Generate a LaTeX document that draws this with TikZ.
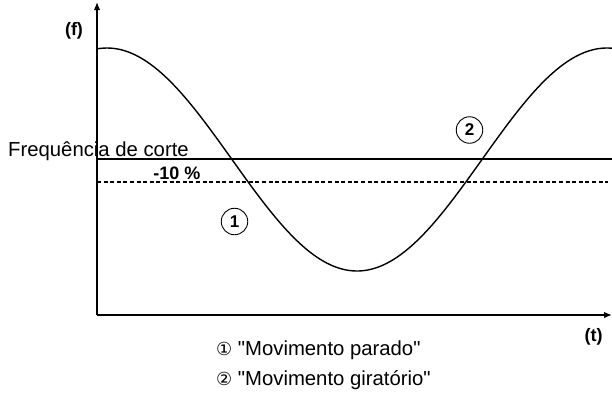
\documentclass[tikz,border=0pt]{standalone}
\usepackage{fontspec}
\setmainfont{Liberation Sans}
\newfontfamily\arialfont{Liberation Sans}
\newfontfamily\circfont{DejaVu Sans}
\usetikzlibrary{arrows.meta}
\tikzset{
  axis/.style={line width=1.4pt, -{Latex[length=8pt,width=6.5pt]}},
  curve/.style={line width=1.4pt},
  level/.style={line width=1.2pt},
  levdash/.style={line width=1.2pt, dash pattern=on 4pt off 2.6pt},
  lbl/.style={inner sep=0pt, font=\arialfont\fontsize{20.3}{24}\selectfont},
  boldlbl/.style={inner sep=0pt, font=\arialfont\fontsize{18}{21}\selectfont\bfseries},
  circ/.style={draw, circle, line width=0.9pt, minimum size=26.5pt, inner sep=0pt, font=\arialfont\fontsize{17}{19}\selectfont\bfseries},
}
\begin{document}
\begin{tikzpicture}[x=1pt,y=-1pt]
\useasboundingbox (0,0) rectangle (612,392);
% axes
\coordinate (O) at (97,315);
\coordinate (ytop) at (97,2);
\coordinate (xend) at (612,315);
\draw[axis] (O) -- (ytop);
\draw[axis] (O) -- (xend);
% levels
\coordinate (hs) at (97,159);
\coordinate (he) at (612,159);
\coordinate (ds) at (97,182);
\coordinate (de) at (608,182);
\draw[level] (hs) -- (he);
\draw[levdash] (ds) -- (de);
% curve
\draw[curve] plot[domain=97:612, samples=160, smooth] (\x, {159.5+111.5*cos(0.72*(\x-357))});
% labels
\node[lbl, anchor=base west] (fc) at (8,156) {Frequência de corte};
\node[boldlbl, anchor=base] (pct) at (177,179) {-10 \%};
\node[boldlbl] (f) at (74,30.5) {(f)};
\node[boldlbl] (t) at (593.5,337) {(t)};
\node[circ] (c1) at (234.5,221.5) {1};
\node[circ] (c2) at (469.5,130) {2};
\node[lbl, anchor=base west] (l1) at (216,355) {{\circfont\fontsize{18}{20}\selectfont ①} "Movimento parado"};
\node[lbl, anchor=base west] (l2) at (216,385) {{\circfont\fontsize{18}{20}\selectfont ②} "Movimento giratório"};
\end{tikzpicture}
\end{document}
